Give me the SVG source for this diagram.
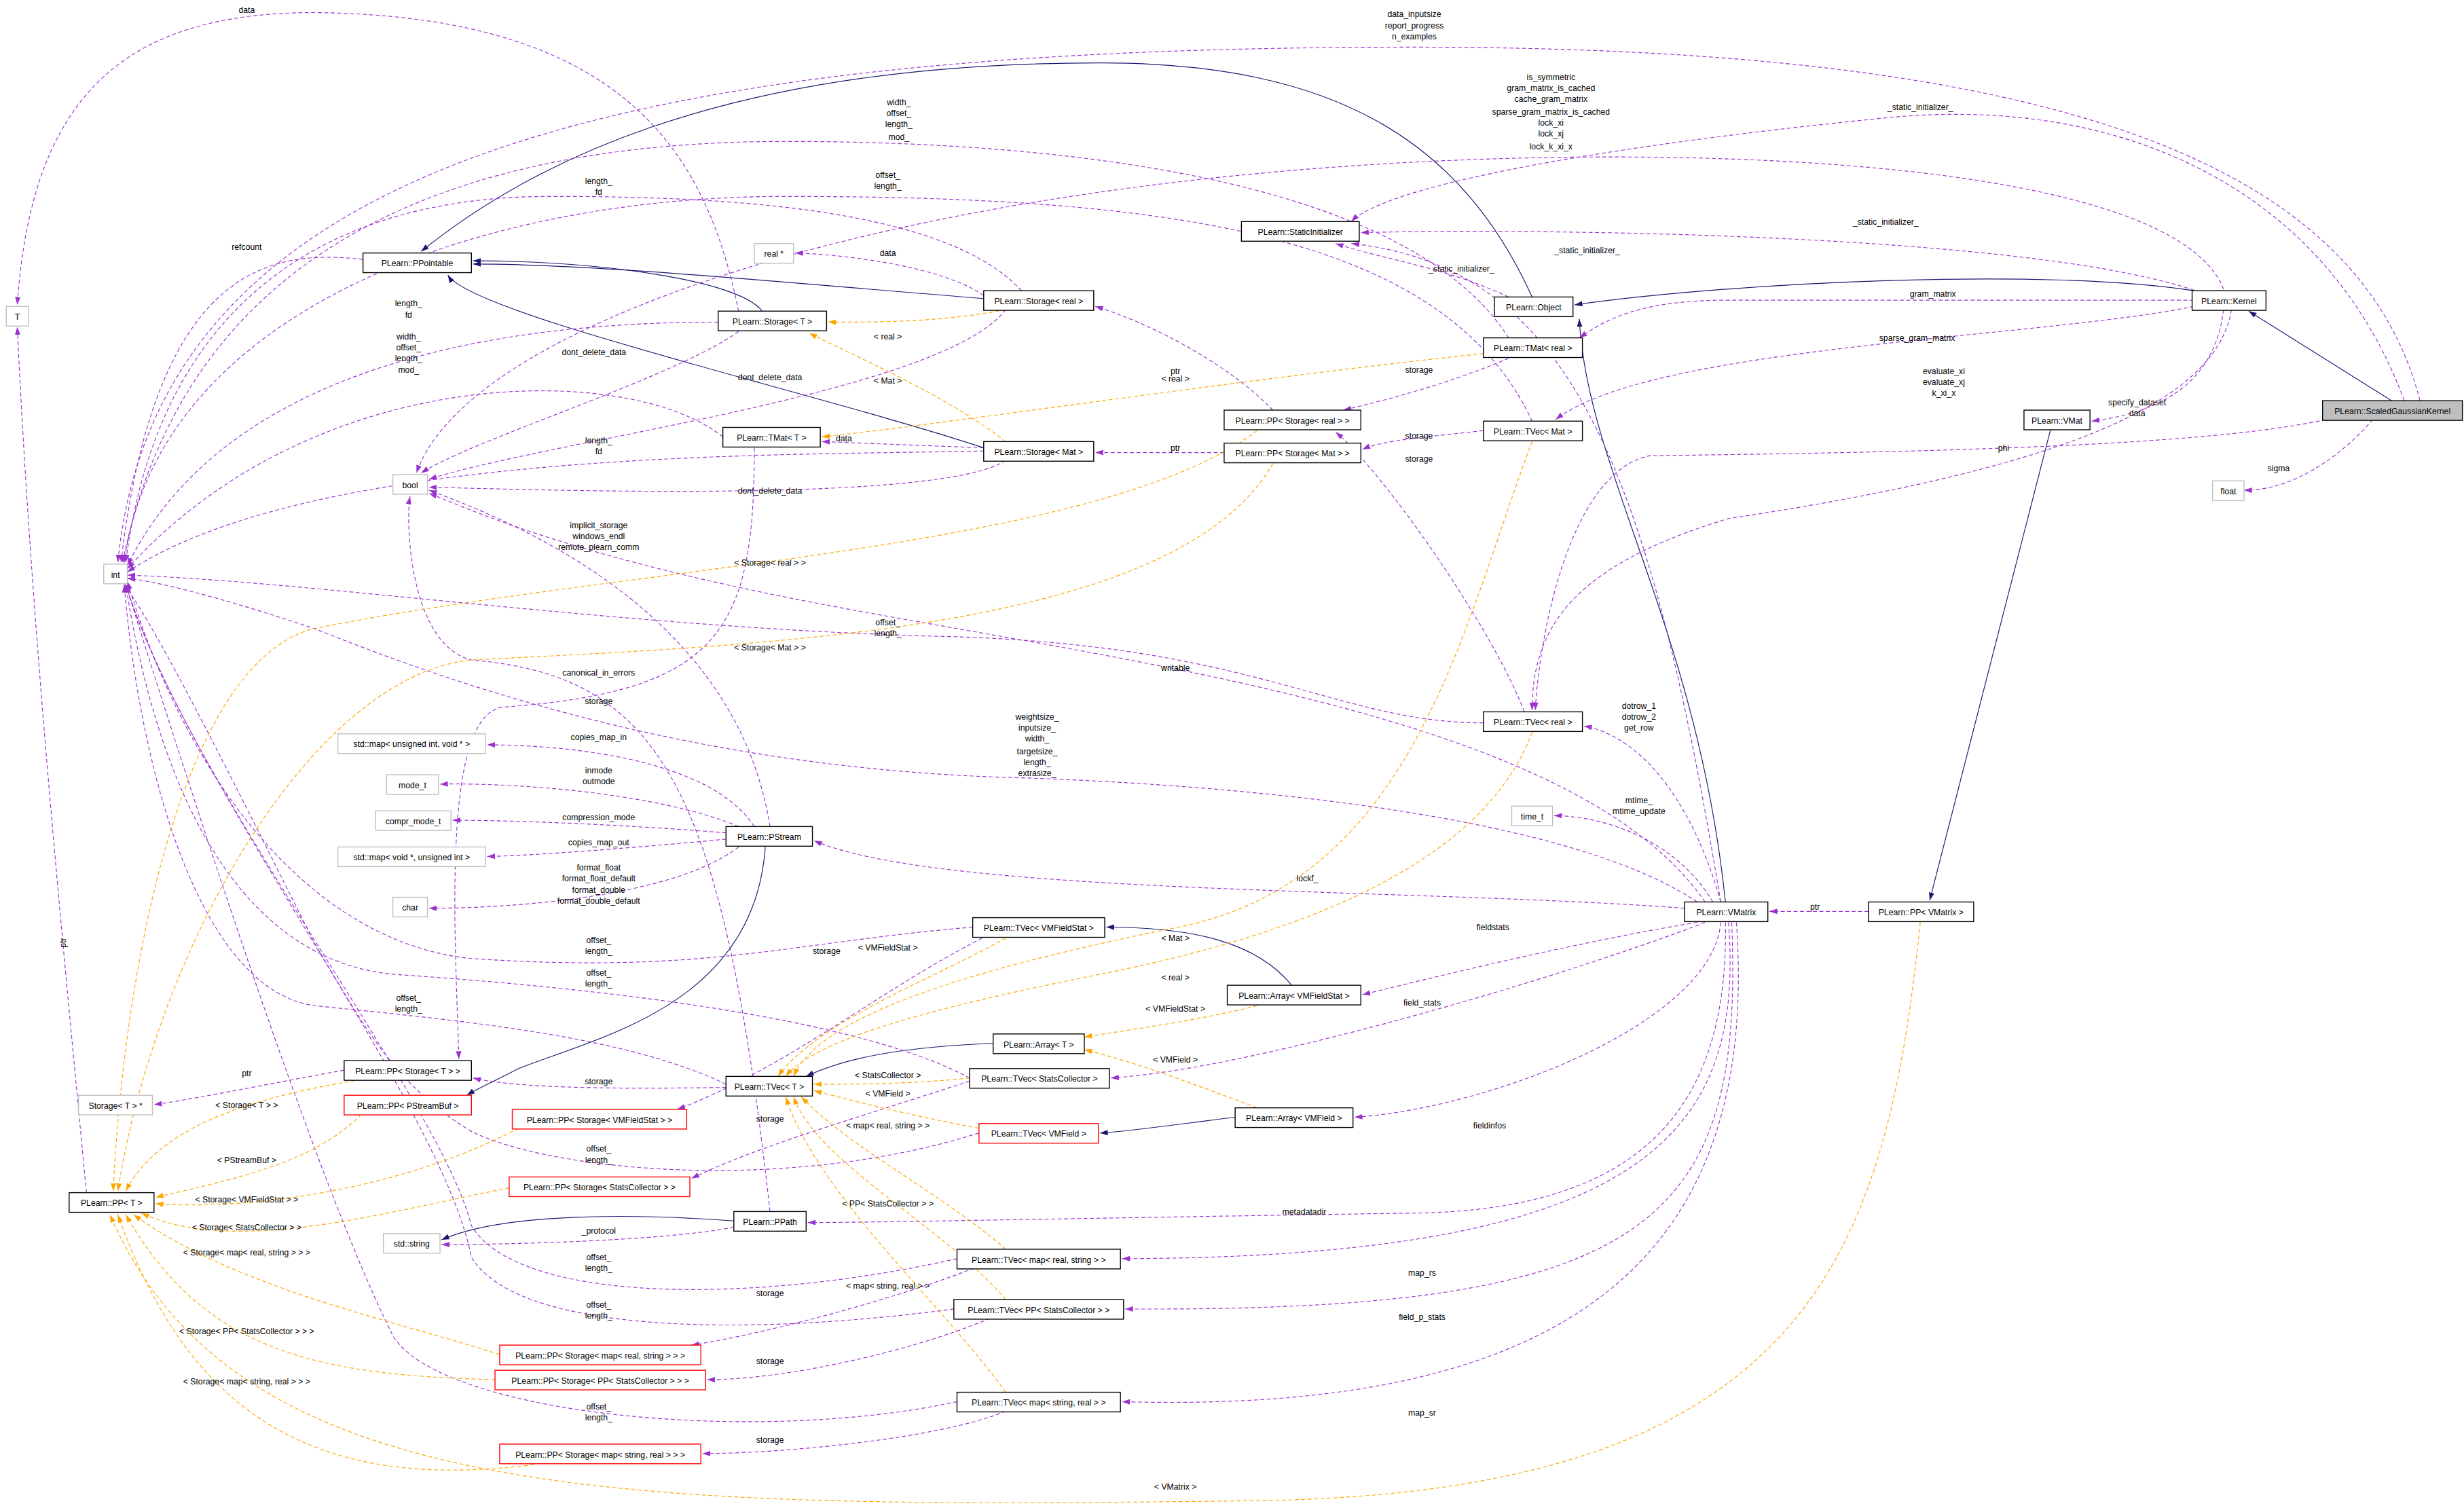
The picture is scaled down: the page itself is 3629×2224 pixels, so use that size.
<svg xmlns="http://www.w3.org/2000/svg" width="3629" height="2224" viewBox="0 0 3629 2224">
<style>
.n rect{fill:#fff;stroke:#000;stroke-width:0.6}
.n.g rect{stroke:#bfbfbf}
.n.r rect{stroke:#ff0000}
.n.s rect{fill:#bfbfbf}
text{font-family:"Liberation Sans",Arial,sans-serif;font-size:5.3px;fill:#000;text-anchor:middle}
.inh{fill:none;stroke:#191970;stroke-width:0.5;marker-end:url(#mb)}
.use{fill:none;stroke:#9a32cd;stroke-width:0.5;stroke-dasharray:2.5,1.6;marker-end:url(#mp)}
.tpl{fill:none;stroke:#ffa500;stroke-width:0.5;stroke-dasharray:2.5,1.6;marker-end:url(#mo)}
</style>
<defs>
<marker id="mb" viewBox="0 0 10 7" refX="10" refY="3.5" markerUnits="userSpaceOnUse" markerWidth="5" markerHeight="3.5" orient="auto"><path d="M0,0L10,3.5L0,7z" fill="#191970"/></marker>
<marker id="mp" viewBox="0 0 10 7" refX="10" refY="3.5" markerUnits="userSpaceOnUse" markerWidth="5" markerHeight="3.5" orient="auto"><path d="M0,0L10,3.5L0,7z" fill="#9a32cd"/></marker>
<marker id="mo" viewBox="0 0 10 7" refX="10" refY="3.5" markerUnits="userSpaceOnUse" markerWidth="5" markerHeight="3.5" orient="auto"><path d="M0,0L10,3.5L0,7z" fill="#ffa500"/></marker>
</defs>
<rect width="3629" height="2224" fill="#fff"/>
<g transform="scale(2.3144)">
<g id="connectors">
<path class="inh" d="M975,189 C930,90 850,40 700,40 C450,40 330,110 268,160"/>
<path class="inh" d="M485,198 C470,178 380,166 301,166"/>
<path class="inh" d="M626,190 C500,180 380,168 301,168"/>
<path class="inh" d="M626,285 C520,250 300,200 285,175"/>
<path class="inh" d="M1396,185 C1300,170 1100,180 1002,194"/>
<path class="inh" d="M1522,255 L1431,198"/>
<path class="inh" d="M1098,574 C1080,400 1010,300 1005,203"/>
<path class="inh" d="M1305,273 L1228,573"/>
<path class="inh" d="M487,539 C480,640 380,660 330,680 C315,688 305,692 297,697"/>
<path class="inh" d="M467,777 C400,772 320,772 281,789"/>
<path class="inh" d="M822,627 C800,600 760,590 704,590"/>
<path class="inh" d="M632,664 C580,666 540,672 513,685"/>
<path class="inh" d="M786,711 C760,714 720,720 700,721"/>

<path class="use" d="M1540,255 C1500,100 1300,30 900,30 C400,30 100,100 75,358"/>
<path class="use" d="M1530,255 C1480,120 1350,60 1200,75 C1000,95 880,120 860,141"/>
<path class="use" d="M1415,184 C1390,120 1200,98 1000,100 C600,105 300,200 265,301"/>
<path class="use" d="M1400,186 C1300,150 1000,145 866,148"/>
<path class="use" d="M960,189 C920,170 880,165 850,155"/>
<path class="use" d="M1095,574 C1050,300 1000,170 860,155"/>
<path class="use" d="M1396,191 L1100,191 C1040,191 1020,205 1005,215"/>
<path class="use" d="M1396,195 C1300,215 1050,220 990,267"/>
<path class="use" d="M1420,197 C1410,260 1300,300 1100,330 C1000,360 975,400 975,452"/>
<path class="use" d="M1415,197 C1410,240 1380,262 1331,268"/>
<path class="use" d="M1480,267 C1400,285 1200,288 1050,290 C1000,300 980,400 977,452"/>
<path class="use" d="M1510,267 C1490,290 1460,312 1428,312"/>
<path class="use" d="M960,215 C900,120 700,90 500,90 C300,90 120,150 78,358"/>
<path class="use" d="M975,268 C920,150 750,125 500,125 C300,125 100,200 79,358"/>
<path class="use" d="M650,185 C600,130 450,125 350,125 C200,125 100,200 80,358"/>
<path class="use" d="M470,198 C450,100 400,10 200,8 C80,8 20,60 11,194"/>
<path class="use" d="M231,165 C180,160 100,160 77,358"/>
<path class="use" d="M457,205 C350,205 150,220 81,360"/>
<path class="use" d="M460,278 C400,230 200,230 81,362"/>
<path class="use" d="M626,287 C500,290 200,285 81,364"/>
<path class="use" d="M626,188 C600,170 540,162 506,161"/>
<path class="use" d="M470,211 C430,240 300,280 268,301"/>
<path class="use" d="M640,197 C600,250 350,280 273,305"/>
<path class="use" d="M640,293 C600,320 350,312 273,310"/>
<path class="use" d="M626,285 L523,281"/>
<path class="use" d="M810,261 C780,230 730,205 697,195"/>
<path class="use" d="M779,288 L697,288"/>
<path class="use" d="M960,228 C920,245 880,255 855,261"/>
<path class="use" d="M944,274 C910,278 880,280 867,286"/>
<path class="use" d="M970,453 C950,400 880,300 850,275"/>
<path class="use" d="M490,526 C470,400 350,340 273,312"/>
<path class="use" d="M490,771 C460,500 420,430 300,420 C260,410 258,330 261,316"/>
<path class="use" d="M480,285 C480,400 460,440 320,450 C280,455 290,600 292,674"/>
<path class="use" d="M480,526 C450,480 350,474 310,474"/>
<path class="use" d="M470,526 C420,505 330,498 280,499"/>
<path class="use" d="M462,530 C400,525 330,522 288,522"/>
<path class="use" d="M462,534 C400,540 330,545 310,545"/>
<path class="use" d="M470,539 C430,570 330,578 273,578"/>
<path class="use" d="M944,460 C850,460 800,410 600,405 C400,400 200,370 81,366"/>
<path class="use" d="M1085,574 C1000,450 700,420 500,380 C350,350 290,320 273,314"/>
<path class="use" d="M1080,574 C1000,520 800,500 650,495 C450,490 300,440 200,400 C140,380 100,370 81,368"/>
<path class="use" d="M1095,574 C1080,520 1050,470 1008,462"/>
<path class="use" d="M1090,574 C1070,540 1030,520 989,519"/>
<path class="use" d="M1072,578 C900,565 600,570 518,535"/>
<path class="use" d="M1080,587 C1000,600 900,625 867,633"/>
<path class="use" d="M1085,587 C1000,620 800,680 707,686"/>
<path class="use" d="M1095,587 C1090,650 950,705 862,711"/>
<path class="use" d="M1098,587 C1100,700 1050,770 900,772 C700,775 560,778 514,778"/>
<path class="use" d="M1100,587 C1110,720 1050,800 714,801"/>
<path class="use" d="M1102,587 C1110,780 1050,835 716,833"/>
<path class="use" d="M1105,587 C1120,800 1000,900 714,892"/>
<path class="use" d="M1189,580 L1126,580"/>
<path class="use" d="M619,590 C500,600 450,620 300,610 C200,600 120,500 81,370"/>
<path class="use" d="M617,686 C550,650 400,630 250,620 C150,610 100,500 80,372"/>
<path class="use" d="M462,690 C400,660 300,650 200,640 C130,630 90,500 79,372"/>
<path class="use" d="M625,597 C560,630 500,680 431,706"/>
<path class="use" d="M462,692 C400,693 330,693 301,686"/>
<path class="use" d="M617,688 C550,710 480,730 440,750"/>
<path class="use" d="M623,721 C500,760 350,745 300,720 C250,690 230,650 200,600 C150,500 100,400 79,372"/>
<path class="use" d="M609,801 C480,830 330,830 300,780 C280,700 120,500 80,372"/>
<path class="use" d="M607,833 C480,850 330,850 300,800 C280,700 120,500 80,372"/>
<path class="use" d="M609,892 C480,920 280,900 250,850 C200,750 120,500 80,372"/>
<path class="use" d="M620,807 C560,830 480,850 440,856"/>
<path class="use" d="M630,839 C580,860 500,878 450,878"/>
<path class="use" d="M640,898 C600,915 500,925 447,925"/>
<path class="use" d="M467,781 C420,790 320,792 281,792"/>
<path class="use" d="M219,681 C170,690 120,700 98,703"/>
<path class="use" d="M55,759 C40,600 20,400 11,208"/>

<path class="tpl" d="M640,197 C600,205 560,205 527,205"/>
<path class="tpl" d="M640,281 C600,250 540,225 515,212"/>
<path class="tpl" d="M944,225 C800,240 600,270 523,278"/>
<path class="tpl" d="M800,274 C700,350 400,360 200,400 C120,420 80,600 72,758"/>
<path class="tpl" d="M810,295 C750,400 500,410 300,420 C200,430 100,600 75,758"/>
<path class="tpl" d="M975,281 C930,400 900,560 750,590 C600,620 520,650 505,685"/>
<path class="tpl" d="M975,466 C940,560 800,600 700,620 C600,640 520,660 500,685"/>
<path class="tpl" d="M640,597 C600,620 520,650 495,685"/>
<path class="tpl" d="M617,686 C580,690 540,690 518,690"/>
<path class="tpl" d="M623,718 C580,710 540,700 518,694"/>
<path class="tpl" d="M640,795 C600,760 540,730 510,698"/>
<path class="tpl" d="M640,827 C600,780 520,740 505,698"/>
<path class="tpl" d="M640,886 C600,830 520,760 500,698"/>
<path class="tpl" d="M800,640 C760,650 720,655 690,660"/>
<path class="tpl" d="M800,705 C760,690 720,675 690,668"/>
<path class="tpl" d="M230,687 C150,700 100,720 80,758"/>
<path class="tpl" d="M230,709 C200,740 150,750 99,762"/>
<path class="tpl" d="M330,718 C250,760 150,770 99,766"/>
<path class="tpl" d="M324,756 C250,770 150,800 90,772"/>
<path class="tpl" d="M318,862 C250,840 150,820 85,773"/>
<path class="tpl" d="M315,878 C200,875 130,860 80,773"/>
<path class="tpl" d="M340,932 C200,950 120,900 75,773"/>
<path class="tpl" d="M1222,587 C1200,800 1150,950 800,955 C400,960 150,960 70,773"/>
</g>
<g id="labels">
<text x="157" y="8">data</text>
<text x="900" y="11">data_inputsize</text><text x="900" y="18">report_progress</text><text x="900" y="25">n_examples</text>
<text x="987" y="51">is_symmetric</text><text x="987" y="58">gram_matrix_is_cached</text><text x="987" y="65">cache_gram_matrix</text><text x="987" y="73">sparse_gram_matrix_is_cached</text><text x="987" y="80">lock_xi</text><text x="987" y="87">lock_xj</text><text x="987" y="95">lock_k_xi_x</text>
<text x="572" y="67">width_</text><text x="572" y="74">offset_</text><text x="572" y="81">length_</text><text x="572" y="89">mod_</text>
<text x="1222" y="70">_static_initializer_</text>
<text x="565" y="113">offset_</text><text x="565" y="120">length_</text>
<text x="381" y="117">length_</text><text x="381" y="124">fd</text>
<text x="1200" y="143">_static_initializer_</text>
<text x="1010" y="161">_static_initializer_</text>
<text x="930" y="173">_static_initializer_</text>
<text x="157" y="159">refcount</text>
<text x="565" y="163">data</text>
<text x="1230" y="189">gram_matrix</text>
<text x="260" y="195">length_</text><text x="260" y="202">fd</text>
<text x="565" y="216">&lt; real &gt;</text>
<text x="1220" y="217">sparse_gram_matrix</text>
<text x="260" y="216">width_</text><text x="260" y="223">offset_</text><text x="260" y="230">length_</text><text x="260" y="237">mod_</text>
<text x="378" y="226">dont_delete_data</text>
<text x="903" y="237">storage</text>
<text x="748" y="238">ptr</text>
<text x="1237" y="238">evaluate_xi</text><text x="1237" y="245">evaluate_xj</text><text x="1237" y="252">k_xi_x</text>
<text x="490" y="242">dont_delete_data</text>
<text x="748" y="243">&lt; real &gt;</text>
<text x="565" y="244">&lt; Mat &gt;</text>
<text x="1360" y="258">specify_dataset</text><text x="1360" y="265">data</text>
<text x="903" y="279">storage</text>
<text x="537" y="281">data</text>
<text x="381" y="282">length_</text><text x="381" y="289">fd</text>
<text x="1275" y="287">phi</text>
<text x="748" y="287">ptr</text>
<text x="903" y="294">storage</text>
<text x="1450" y="300">sigma</text>
<text x="490" y="314">dont_delete_data</text>
<text x="381" y="336">implicit_storage</text><text x="381" y="343">windows_endl</text><text x="381" y="350">remote_plearn_comm</text>
<text x="490" y="360">&lt; Storage&lt; real &gt; &gt;</text>
<text x="565" y="398">offset_</text><text x="565" y="405">length_</text>
<text x="490" y="414">&lt; Storage&lt; Mat &gt; &gt;</text>
<text x="748" y="427">writable</text>
<text x="381" y="430">canonical_in_errors</text>
<text x="381" y="448">storage</text>
<text x="1043" y="451">dotrow_1</text><text x="1043" y="458">dotrow_2</text><text x="1043" y="465">get_row</text>
<text x="660" y="458">weightsize_</text><text x="660" y="465">inputsize_</text><text x="660" y="472">width_</text><text x="660" y="480">targetsize_</text><text x="660" y="487">length_</text><text x="660" y="494">extrasize_</text>
<text x="381" y="471">copies_map_in</text>
<text x="381" y="492">inmode</text><text x="381" y="499">outmode</text>
<text x="1043" y="511">mtime_</text><text x="1043" y="518">mtime_update</text>
<text x="381" y="522">compression_mode</text>
<text x="381" y="538">copies_map_out</text>
<text x="381" y="554">format_float</text><text x="381" y="561">format_float_default</text><text x="381" y="568">format_double</text><text x="381" y="575">format_double_default</text>
<text x="832" y="561">lockf_</text>
<text x="1155" y="579">ptr</text>
<text x="950" y="592">fieldstats</text>
<text x="748" y="599">&lt; Mat &gt;</text>
<text x="381" y="600">offset_</text><text x="381" y="607">length_</text>
<text x="565" y="605">&lt; VMFieldStat &gt;</text>
<text x="526" y="607">storage</text>
<text x="381" y="621">offset_</text><text x="381" y="628">length_</text>
<text x="748" y="624">&lt; real &gt;</text>
<text x="260" y="637">offset_</text><text x="260" y="644">length_</text>
<text x="905" y="640">field_stats</text>
<text x="748" y="644">&lt; VMFieldStat &gt;</text>
<text x="748" y="676">&lt; VMField &gt;</text>
<text x="157" y="685">ptr</text>
<text x="565" y="686">&lt; StatsCollector &gt;</text>
<text x="381" y="690">storage</text>
<text x="565" y="698">&lt; VMField &gt;</text>
<text x="157" y="705">&lt; Storage&lt; T &gt; &gt;</text>
<text x="490" y="714">storage</text>
<text x="565" y="718">&lt; map&lt; real, string &gt; &gt;</text>
<text x="948" y="718">fieldinfos</text>
<text x="381" y="733">offset_</text><text x="381" y="740">length_</text>
<text x="157" y="740">&lt; PStreamBuf &gt;</text>
<text x="157" y="765">&lt; Storage&lt; VMFieldStat &gt; &gt;</text>
<text x="565" y="768">&lt; PP&lt; StatsCollector &gt; &gt;</text>
<text x="830" y="773">metadatadir</text>
<text x="157" y="783">&lt; Storage&lt; StatsCollector &gt; &gt;</text>
<text x="381" y="785">_protocol</text>
<text x="157" y="799">&lt; Storage&lt; map&lt; real, string &gt; &gt; &gt;</text>
<text x="381" y="802">offset_</text><text x="381" y="809">length_</text>
<text x="905" y="812">map_rs</text>
<text x="565" y="820">&lt; map&lt; string, real &gt; &gt;</text>
<text x="490" y="825">storage</text>
<text x="381" y="832">offset_</text><text x="381" y="839">length_</text>
<text x="905" y="840">field_p_stats</text>
<text x="157" y="849">&lt; Storage&lt; PP&lt; StatsCollector &gt; &gt; &gt;</text>
<text x="490" y="868">storage</text>
<text x="157" y="881">&lt; Storage&lt; map&lt; string, real &gt; &gt; &gt;</text>
<text x="381" y="897">offset_</text><text x="381" y="904">length_</text>
<text x="905" y="901">map_sr</text>
<text x="490" y="918">storage</text>
<text x="748" y="948">&lt; VMatrix &gt;</text>
<text x="42" y="600" transform="rotate(-90 42 600)">ptr</text>
</g>
<g id="n_T" class="n g"><rect x="4" y="195" width="14" height="12.5"/><text x="11" y="203.5">T</text></g>
<g id="n_int" class="n g"><rect x="66" y="359" width="15" height="12.5"/><text x="73.5" y="367.5">int</text></g>
<g id="n_bool" class="n g"><rect x="250" y="302" width="22" height="12.5"/><text x="261" y="310.5">bool</text></g>
<g id="n_char" class="n g"><rect x="250" y="571" width="22" height="12.5"/><text x="261" y="579.5">char</text></g>
<g id="n_mode" class="n g"><rect x="246" y="493" width="33" height="12.5"/><text x="262.5" y="501.5">mode_t</text></g>
<g id="n_compr" class="n g"><rect x="239" y="516" width="48" height="12.5"/><text x="263" y="524.5">compr_mode_t</text></g>
<g id="n_map1" class="n g"><rect x="215" y="467" width="94" height="12.5"/><text x="262" y="475.5">std::map&lt; unsigned int, void * &gt;</text></g>
<g id="n_map2" class="n g"><rect x="215" y="539" width="94" height="12.5"/><text x="262" y="547.5">std::map&lt; void *, unsigned int &gt;</text></g>
<g id="n_string" class="n g"><rect x="244" y="785" width="36" height="12.5"/><text x="262" y="793.5">std::string</text></g>
<g id="n_StorageTptr" class="n g"><rect x="50" y="697" width="47" height="12.5"/><text x="73.5" y="705.5">Storage&lt; T &gt; *</text></g>
<g id="n_PPT" class="n"><rect x="44" y="759" width="54" height="12.5"/><text x="71" y="767.5">PLearn::PP&lt; T &gt;</text></g>
<g id="n_realptr" class="n g"><rect x="480" y="155" width="25" height="12.5"/><text x="492.5" y="163.5">real *</text></g>
<g id="n_PPointable" class="n"><rect x="231" y="161" width="69" height="12.5"/><text x="265.5" y="169.5">PLearn::PPointable</text></g>
<g id="n_StorageT" class="n"><rect x="457" y="198" width="69" height="12.5"/><text x="491.5" y="206.5">PLearn::Storage&lt; T &gt;</text></g>
<g id="n_TMatT" class="n"><rect x="460" y="272" width="62" height="12.5"/><text x="491" y="280.5">PLearn::TMat&lt; T &gt;</text></g>
<g id="n_StorageReal" class="n"><rect x="626" y="185" width="70" height="12.5"/><text x="661" y="193.5">PLearn::Storage&lt; real &gt;</text></g>
<g id="n_StorageMat" class="n"><rect x="626" y="281" width="70" height="12.5"/><text x="661" y="289.5">PLearn::Storage&lt; Mat &gt;</text></g>
<g id="n_PPStorageT" class="n"><rect x="219" y="675" width="81" height="12.5"/><text x="259.5" y="683.5">PLearn::PP&lt; Storage&lt; T &gt; &gt;</text></g>
<g id="n_PPPStreamBuf" class="n r"><rect x="219" y="697" width="81" height="12.5"/><text x="259.5" y="705.5">PLearn::PP&lt; PStreamBuf &gt;</text></g>
<g id="n_PPSVMFS" class="n r"><rect x="326" y="706" width="111" height="12.5"/><text x="381.5" y="714.5">PLearn::PP&lt; Storage&lt; VMFieldStat &gt; &gt;</text></g>
<g id="n_PPSSC" class="n r"><rect x="324" y="749" width="115" height="12.5"/><text x="381.5" y="757.5">PLearn::PP&lt; Storage&lt; StatsCollector &gt; &gt;</text></g>
<g id="n_PStream" class="n"><rect x="462" y="526" width="55" height="12.5"/><text x="489.5" y="534.5">PLearn::PStream</text></g>
<g id="n_PPath" class="n"><rect x="467" y="771" width="46" height="12.5"/><text x="490" y="779.5">PLearn::PPath</text></g>
<g id="n_PPSMRS" class="n r"><rect x="318" y="856" width="128" height="12.5"/><text x="382" y="864.5">PLearn::PP&lt; Storage&lt; map&lt; real, string &gt; &gt; &gt;</text></g>
<g id="n_PPSPPSC" class="n r"><rect x="315" y="872" width="134" height="12.5"/><text x="382" y="880.5">PLearn::PP&lt; Storage&lt; PP&lt; StatsCollector &gt; &gt; &gt;</text></g>
<g id="n_PPSMSR" class="n r"><rect x="318" y="919" width="128" height="12.5"/><text x="382" y="927.5">PLearn::PP&lt; Storage&lt; map&lt; string, real &gt; &gt; &gt;</text></g>
<g id="n_TVecT" class="n"><rect x="462" y="685" width="55" height="12.5"/><text x="489.5" y="693.5">PLearn::TVec&lt; T &gt;</text></g>
<g id="n_TVecVMFS" class="n"><rect x="619" y="584" width="84" height="12.5"/><text x="661" y="592.5">PLearn::TVec&lt; VMFieldStat &gt;</text></g>
<g id="n_ArrayT" class="n"><rect x="632" y="658" width="58" height="12.5"/><text x="661" y="666.5">PLearn::Array&lt; T &gt;</text></g>
<g id="n_TVecSC" class="n"><rect x="617" y="680" width="89" height="12.5"/><text x="661.5" y="688.5">PLearn::TVec&lt; StatsCollector &gt;</text></g>
<g id="n_TVecVMF" class="n r"><rect x="623" y="715" width="76" height="12.5"/><text x="661" y="723.5">PLearn::TVec&lt; VMField &gt;</text></g>
<g id="n_TVecMRS" class="n"><rect x="609" y="795" width="104" height="12.5"/><text x="661" y="803.5">PLearn::TVec&lt; map&lt; real, string &gt; &gt;</text></g>
<g id="n_TVecPPSC" class="n"><rect x="607" y="827" width="108" height="12.5"/><text x="661" y="835.5">PLearn::TVec&lt; PP&lt; StatsCollector &gt; &gt;</text></g>
<g id="n_TVecMSR" class="n"><rect x="609" y="886" width="104" height="12.5"/><text x="661" y="894.5">PLearn::TVec&lt; map&lt; string, real &gt; &gt;</text></g>
<g id="n_StaticInit" class="n"><rect x="790" y="141" width="75" height="12.5"/><text x="827.5" y="149.5">PLearn::StaticInitializer</text></g>
<g id="n_Object" class="n"><rect x="951" y="189" width="50" height="12.5"/><text x="976" y="197.5">PLearn::Object</text></g>
<g id="n_TMatReal" class="n"><rect x="944" y="215" width="63" height="12.5"/><text x="975.5" y="223.5">PLearn::TMat&lt; real &gt;</text></g>
<g id="n_PPSReal" class="n"><rect x="779" y="261" width="87" height="12.5"/><text x="822.5" y="269.5">PLearn::PP&lt; Storage&lt; real &gt; &gt;</text></g>
<g id="n_PPSMat" class="n"><rect x="779" y="282" width="87" height="12.5"/><text x="822.5" y="290.5">PLearn::PP&lt; Storage&lt; Mat &gt; &gt;</text></g>
<g id="n_TVecMat" class="n"><rect x="944" y="268" width="63" height="12.5"/><text x="975.5" y="276.5">PLearn::TVec&lt; Mat &gt;</text></g>
<g id="n_TVecReal" class="n"><rect x="944" y="453" width="63" height="12.5"/><text x="975.5" y="461.5">PLearn::TVec&lt; real &gt;</text></g>
<g id="n_time" class="n g"><rect x="962" y="513" width="26" height="12.5"/><text x="975" y="521.5">time_t</text></g>
<g id="n_VMatrix" class="n"><rect x="1072" y="574" width="53" height="12.5"/><text x="1098.5" y="582.5">PLearn::VMatrix</text></g>
<g id="n_ArrayVMFS" class="n"><rect x="781" y="627" width="85" height="12.5"/><text x="823.5" y="635.5">PLearn::Array&lt; VMFieldStat &gt;</text></g>
<g id="n_ArrayVMF" class="n"><rect x="786" y="705" width="75" height="12.5"/><text x="823.5" y="713.5">PLearn::Array&lt; VMField &gt;</text></g>
<g id="n_Kernel" class="n"><rect x="1395" y="185" width="47" height="12.5"/><text x="1418.5" y="193.5">PLearn::Kernel</text></g>
<g id="n_VMat" class="n"><rect x="1288" y="261" width="42" height="12.5"/><text x="1309" y="269.5">PLearn::VMat</text></g>
<g id="n_PPVMatrix" class="n"><rect x="1189" y="574" width="67" height="12.5"/><text x="1222.5" y="582.5">PLearn::PP&lt; VMatrix &gt;</text></g>
<g id="n_SGK" class="n s"><rect x="1478" y="255" width="89" height="12.5"/><text x="1522.5" y="263.5">PLearn::ScaledGaussianKernel</text></g>
<g id="n_float" class="n g"><rect x="1408" y="306" width="20" height="12.5"/><text x="1418" y="314.5">float</text></g>
</g>
</svg>
